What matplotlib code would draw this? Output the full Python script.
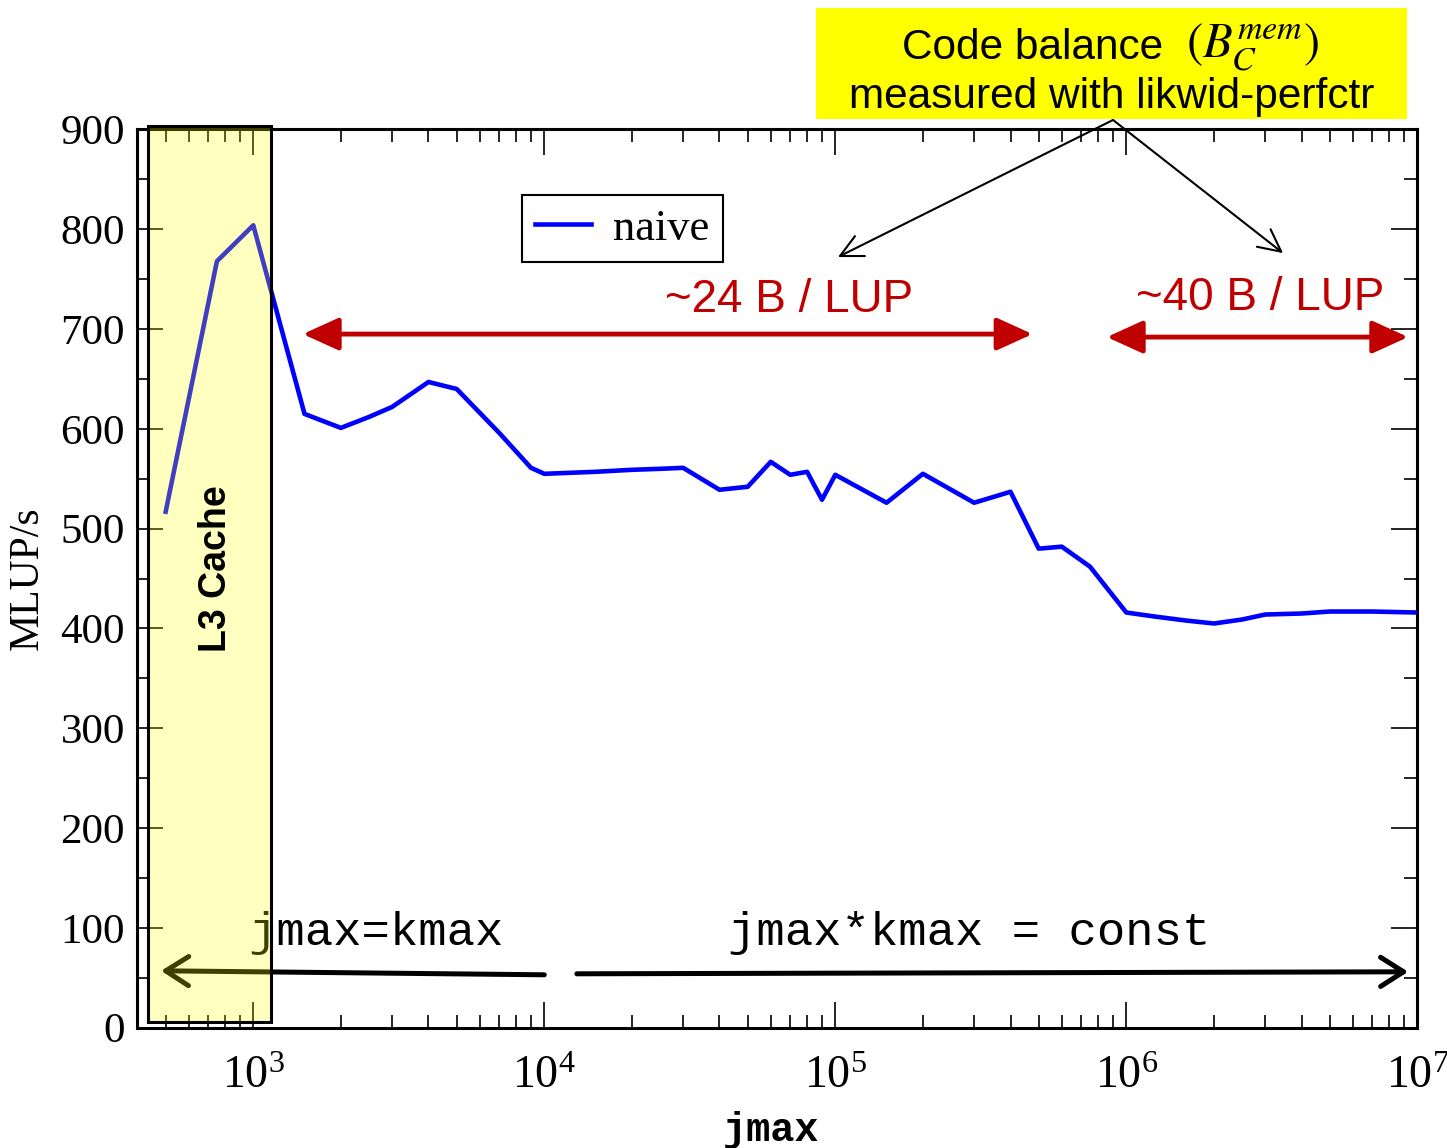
import matplotlib
matplotlib.use("Agg")
import matplotlib.pyplot as plt
from matplotlib.patches import Rectangle
from matplotlib.ticker import LogLocator, MultipleLocator

# measured performance of the naive kernel
jmax = [500, 750, 1000, 1500, 2000, 2500, 3000, 4000, 5000, 7000, 9000,
        10000, 15000, 20000, 25000, 30000, 40000, 50000, 60000, 70000,
        80000, 90000, 100000, 150000, 200000, 300000, 400000, 500000,
        600000, 750000, 1000000, 1250000, 1600000, 2000000, 2500000,
        3000000, 4000000, 5000000, 7000000, 10000000]
mlups = [517, 768, 804, 615, 601, 612, 622, 647, 640, 596, 561,
         555, 557, 559, 560, 561, 539, 542, 567, 554,
         557, 529, 554, 526, 555, 526, 537, 480,
         482, 462, 416, 412, 408, 405, 409,
         414, 415, 417, 417, 416]

l3_range = (435, 1150)
red = "#C00000"

plt.rcParams["font.family"] = "Liberation Serif"
plt.rcParams["mathtext.fontset"] = "stix"

fig = plt.figure(figsize=(14.47, 11.48), dpi=100)
ax = fig.add_axes([0.0950, 0.1048, 0.8845, 0.7824])

ax.plot(jmax, mlups, color="blue", lw=3.3, label="naive", zorder=3)

ax.set_xscale("log")
ax.set_xlim(400, 1e7)
ax.set_ylim(0, 900)
ax.yaxis.set_major_locator(MultipleLocator(100))
ax.yaxis.set_minor_locator(MultipleLocator(50))
ax.xaxis.set_major_locator(LogLocator(base=10))
ax.xaxis.set_minor_locator(LogLocator(base=10, subs=range(2, 10)))

ax.tick_params(which="both", direction="in", top=True, right=True, width=1.2)
ax.tick_params(which="major", length=19)
ax.tick_params(which="minor", length=9.5)
ax.tick_params(axis="y", labelsize=31, pad=9)
ax.tick_params(axis="x", labelsize=33, pad=20)
for s in ax.spines.values():
    s.set_linewidth(2.2)

ax.set_ylabel("MLUP/s", fontsize=30)
ax.yaxis.set_label_coords(-0.071, 0.5)
ax.set_xlabel("jmax", fontsize=29, family="Liberation Mono",
              fontweight="bold", va="center")
ax.xaxis.set_label_coords(0.495, -0.114)

leg = ax.legend(loc="upper left", bbox_to_anchor=(0.3004, 0.927),
                borderaxespad=0, fancybox=False, framealpha=1,
                edgecolor="black", fontsize=32, handlelength=1.25,
                handletextpad=0.5, borderpad=0.3)
leg.get_frame().set_linewidth(1.5)

# L3 cache region
ax.add_patch(Rectangle((l3_range[0], 6), l3_range[1] - l3_range[0], 898,
                       facecolor="yellow", alpha=0.25, edgecolor="none",
                       zorder=10, clip_on=False))
ax.add_patch(Rectangle((l3_range[0], 6), l3_range[1] - l3_range[0], 898,
                       facecolor="none", edgecolor="black", lw=2.2,
                       zorder=11, clip_on=False))
ax.text(745, 460, "L3 Cache", rotation=90, ha="center", va="center",
        fontsize=27, fontweight="bold", family="Liberation Sans", zorder=12)

# code balance ranges
arrow_red = dict(arrowstyle="<|-|>,head_length=1.1,head_width=0.5",
                 mutation_scale=20, color=red, lw=3.5, shrinkA=0, shrinkB=0)
ax.annotate("", xy=(1480, 695), xytext=(4.76e5, 695), arrowprops=arrow_red)
ax.annotate("", xy=(8.57e5, 692), xytext=(9.3e6, 692), arrowprops=arrow_red)
ax.text(6.95e4, 729, "~24 B / LUP", color=red, fontsize=33,
        family="Liberation Sans", ha="center", va="center")
ax.text(2.88e6, 731, "~40 B / LUP", color=red, fontsize=33,
        family="Liberation Sans", ha="center", va="center")

# problem size regimes
ax.text(961, 95, "jmax=kmax", fontsize=34, family="Liberation Mono",
        ha="left", va="center", zorder=4)
ax.text(2.89e5, 95, "jmax*kmax = const", fontsize=34,
        family="Liberation Mono", ha="center", va="center", zorder=4)
arrow_blk = dict(arrowstyle="->,head_length=0.55,head_width=0.35",
                 mutation_scale=30, color="black", lw=3.6,
                 shrinkA=0, shrinkB=0)
ax.annotate("", xy=(482, 57), xytext=(1e4, 53), arrowprops=arrow_blk,
            zorder=4)
ax.annotate("", xy=(9.3e6, 56), xytext=(1.294e4, 54), arrowprops=arrow_blk,
            zorder=4)

# code balance box at the top
fig.patches.append(Rectangle((0.5639, 0.8963), 0.4084, 0.0967,
                             facecolor="yellow", edgecolor="none",
                             transform=fig.transFigure, figure=fig))
fig.text(1163 / 1447, 0.9585, "Code balance", fontsize=30.5,
         family="Liberation Sans", ha="right", va="center")
fig.text(1186 / 1447, 0.9585, r"$(B_C^{mem})$", fontsize=35,
         ha="left", va="center")
fig.text(0.7685, 0.9155, "measured with likwid-perfctr", fontsize=30.5,
         family="Liberation Sans", ha="center", va="center")
for tgt in [(0.5791, 0.7761), (0.8867, 0.7795)]:
    ax.annotate("", xy=tgt, xytext=(0.7692, 0.8955),
                xycoords="figure fraction", textcoords="figure fraction",
                arrowprops=dict(arrowstyle="->,head_length=0.8,head_width=0.4",
                                mutation_scale=20, color="black", lw=1.5,
                                shrinkA=0, shrinkB=0))

fig.savefig("out.png", dpi=100)
